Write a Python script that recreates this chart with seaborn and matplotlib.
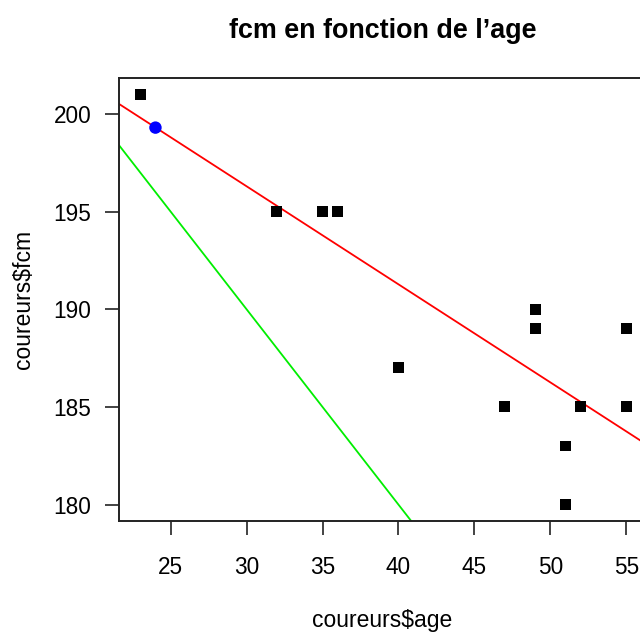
import matplotlib
matplotlib.use("Agg")
import matplotlib.pyplot as plt
import seaborn as sns
import numpy as np
import pandas as pd

age = [23, 32, 35, 36, 40, 47, 49, 49, 51, 51, 52, 55, 55]
fcm = [201, 195, 195, 195, 187, 185, 190, 189, 183, 180, 185, 189, 185]
new_age = [24]
new_fcm = [199.3]
theo_intercept = 220
theo_slope = -1
xticks = [25, 30, 35, 40, 45, 50, 55]
yticks = [180, 185, 190, 195, 200]

sns.set_style("white")
plt.rcParams['font.family'] = ['Liberation Sans', 'DejaVu Sans']
plt.rcParams['text.color'] = 'black'
plt.rcParams['axes.labelcolor'] = 'black'
plt.rcParams['xtick.color'] = 'black'
plt.rcParams['ytick.color'] = 'black'

fig = plt.figure(figsize=(6.4, 6.34), dpi=100)
ax = fig.add_axes([119/640, 1 - 521/634, (646 - 119)/640, (521 - 78)/634])

df = pd.DataFrame({"age": age, "fcm": fcm})
sns.scatterplot(data=df, x="age", y="fcm", marker="s", s=62, color="black",
                edgecolor="none", ax=ax, zorder=3)
sns.scatterplot(x=new_age, y=new_fcm, marker="o", s=80, color="blue",
                edgecolor="none", ax=ax, zorder=4)

slope, intercept = np.polyfit(age, fcm, 1)
ax.axline((0, intercept), slope=slope, color="red", lw=1.3, zorder=2)
ax.axline((0, theo_intercept), slope=theo_slope, color="#00ee00", lw=1.3, zorder=2)

ax.set_xlim(21.6, 56.3)
ax.set_ylim(179.16, 201.84)
ax.set_xticks(xticks)
ax.set_yticks(yticks)
ax.tick_params(axis="both", direction="out", length=10, width=1.2, color="#222222",
               labelsize=16.3, labelcolor="black", left=True, bottom=True)
ax.tick_params(axis="x", pad=15)
ax.tick_params(axis="y", pad=10)
for s in ax.spines.values():
    s.set_color("#222222")
    s.set_linewidth(1.4)

ax.set_xlabel("coureurs$age", fontsize=16.5, labelpad=22, color="black")
ax.set_ylabel("coureurs$fcm", fontsize=16.5, labelpad=13, color="black")
fig.text((119 + 646) / 2 / 640, 1 - 31 / 634, "fcm en fonction de l\u2019age",
         ha="center", va="center", fontsize=19.4, fontweight="bold", color="black")

fig.savefig("out.png", dpi=100)
